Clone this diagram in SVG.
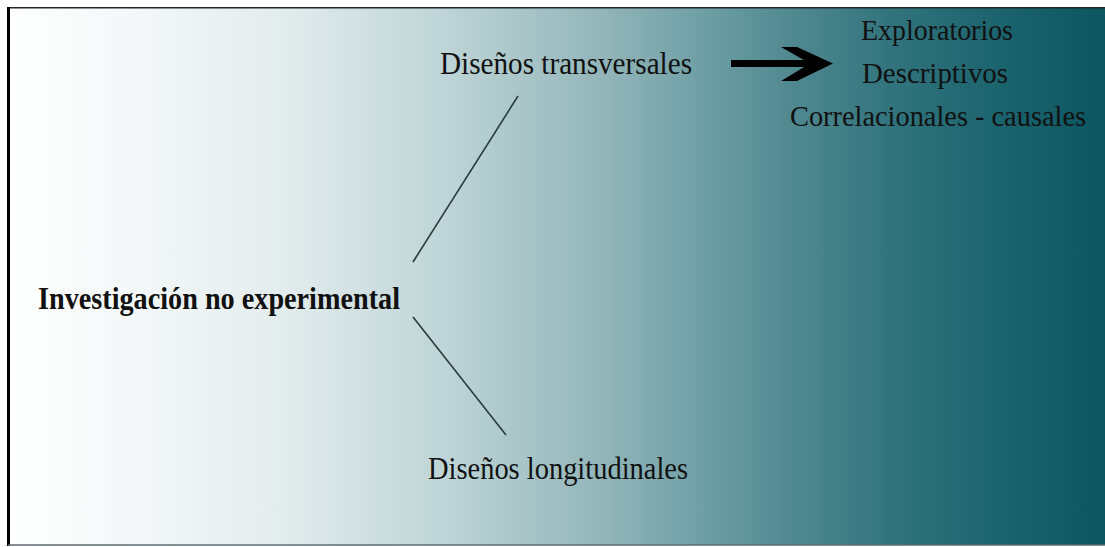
<svg xmlns="http://www.w3.org/2000/svg" width="1105" height="547" viewBox="0 0 1105 547">
  <defs>
    <!-- horizontal fade from white to deep teal -->
    <linearGradient id="bg" x1="8" y1="0" x2="1105" y2="0" gradientUnits="userSpaceOnUse">
      <stop offset="0" stop-color="#ffffff"/>
      <stop offset="0.12" stop-color="#f3f7f7"/>
      <stop offset="0.25" stop-color="#e3eced"/>
      <stop offset="0.4" stop-color="#bed4d6"/>
      <stop offset="0.54" stop-color="#93b6ba"/>
      <stop offset="0.63" stop-color="#70a0a6"/>
      <stop offset="0.72" stop-color="#4f878f"/>
      <stop offset="0.81" stop-color="#30737c"/>
      <stop offset="0.9" stop-color="#1c646e"/>
      <stop offset="1" stop-color="#0b5661"/>
    </linearGradient>
    <style>
      .t { font-family: "Liberation Serif", "Times New Roman", serif; fill: #111; }
      .main { font-weight: bold; font-size: 31px; }
      .sub { font-size: 31px; }
      .list { font-size: 30px; }
      .link { stroke: #2b3a3c; stroke-width: 1.6; fill: none; }
    </style>
  </defs>

  <!-- page background and frame -->
  <rect x="0" y="0" width="1105" height="547" fill="#ffffff"/>
  <rect x="8" y="7.5" width="1097" height="537.5" fill="url(#bg)"/>
  <line x1="8" y1="7.8" x2="1105" y2="7.8" stroke="#1e2a2c" stroke-width="1.6"/>
  <line x1="8.5" y1="7" x2="8.5" y2="546" stroke="#000" stroke-width="3"/>
  <line x1="8" y1="545" x2="1105" y2="545" stroke="#5d6d70" stroke-width="1.5"/>

  <!-- connectors -->
  <g id="connectors">
    <line class="link" x1="413" y1="262" x2="518" y2="96"/>
    <line class="link" x1="413" y1="317" x2="506" y2="435"/>
    <g id="arrow" fill="#000">
      <rect x="731" y="60" width="80" height="7"/>
      <polygon points="781,47 797,47 833,63.5 797,81 781,81 810,63.5"/>
    </g>
  </g>

  <!-- nodes -->
  <g id="node-root">
    <text class="t main" x="38" y="309" textLength="362" lengthAdjust="spacingAndGlyphs">Investigación no experimental</text>
  </g>
  <g id="node-transversal">
    <text class="t sub" x="440" y="74" textLength="252" lengthAdjust="spacingAndGlyphs">Diseños transversales</text>
  </g>
  <g id="node-longitudinal">
    <text class="t sub" x="428" y="479" textLength="260" lengthAdjust="spacingAndGlyphs">Diseños longitudinales</text>
  </g>
  <g id="node-types">
    <text class="t list" x="861" y="40" textLength="152" lengthAdjust="spacingAndGlyphs">Exploratorios</text>
    <text class="t list" x="862" y="83" textLength="146" lengthAdjust="spacingAndGlyphs">Descriptivos</text>
    <text class="t list" x="790" y="126" textLength="296" lengthAdjust="spacingAndGlyphs">Correlacionales - causales</text>
  </g>
</svg>
